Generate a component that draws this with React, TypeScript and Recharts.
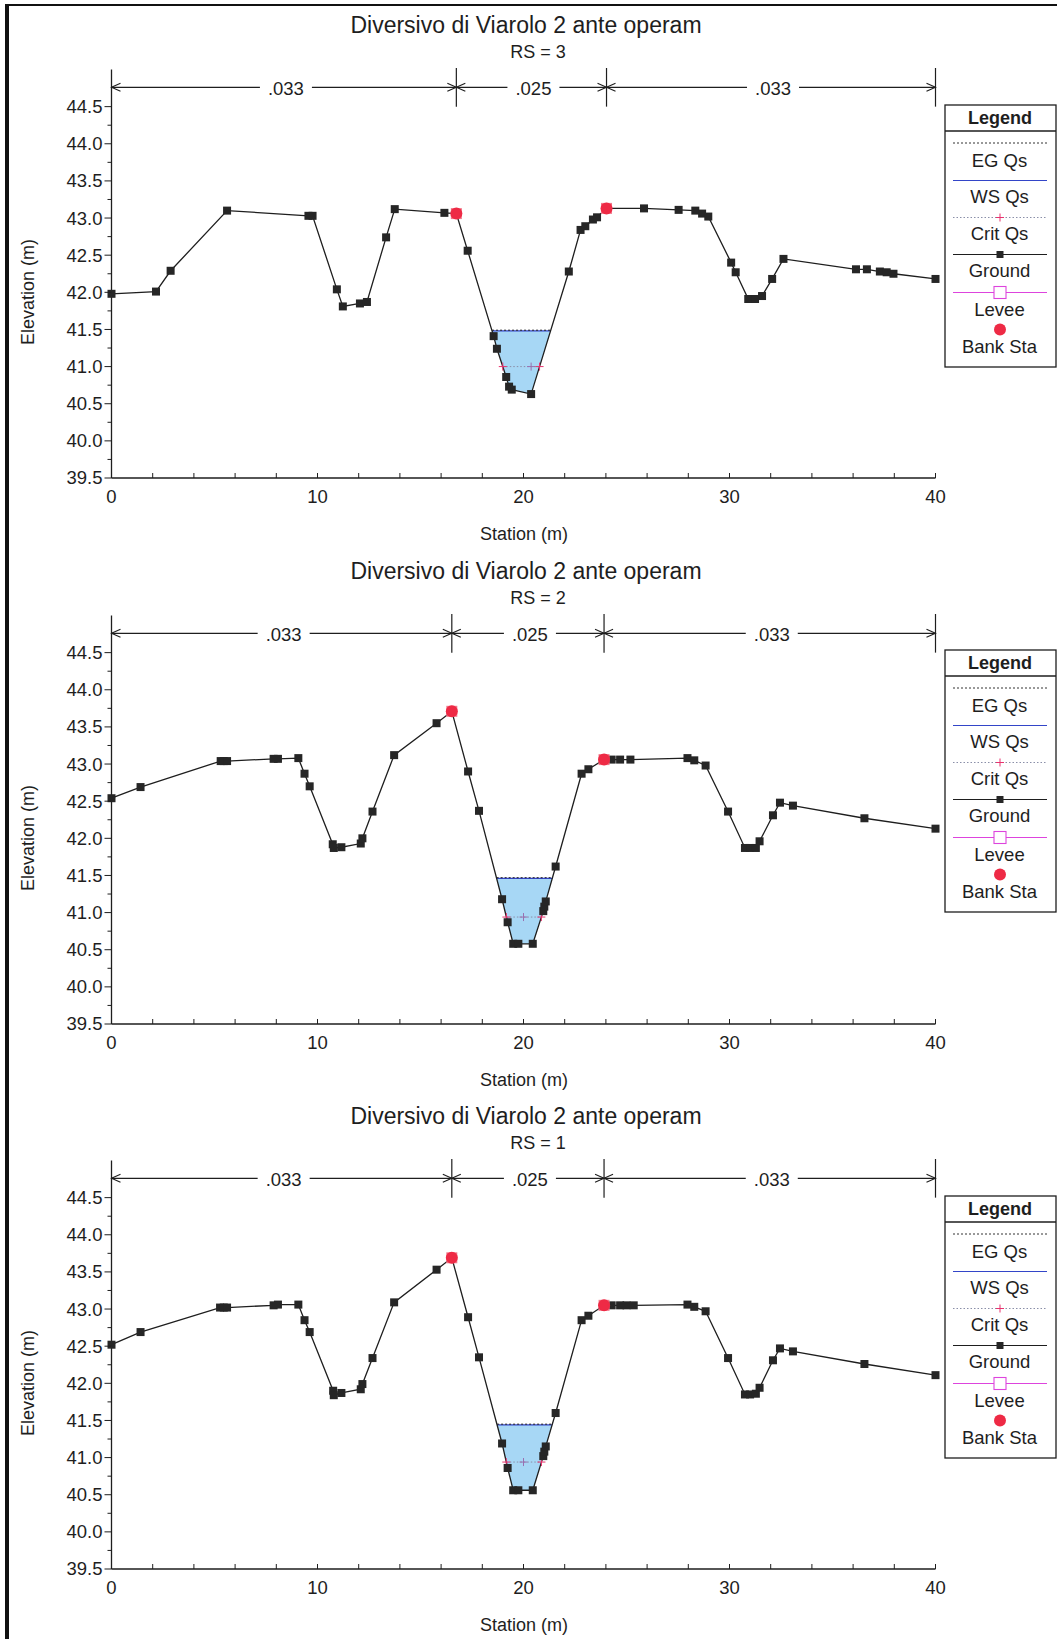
import { ComposedChart, Line, Area, Scatter, XAxis, YAxis, ReferenceLine } from "recharts"

const chartTitle = "Diversivo di Viarolo 2 ante operam"
const rsNames = ["3", "2", "1"]
const nValues = [".033", ".025", ".033"]

const xTicks = [0, 2, 4, 6, 8, 10, 12, 14, 16, 18, 20, 22, 24, 26, 28, 30, 32, 34, 36, 38, 40]
const xLabelTicks = [0, 10, 20, 30, 40]
const yTicks = [
  39.5, 39.75, 40, 40.25, 40.5, 40.75, 41, 41.25, 41.5, 41.75, 42, 42.25,
  42.5, 42.75, 43, 43.25, 43.5, 43.75, 44, 44.25, 44.5
]

// RS = 3
const rs3Station = [
  0, 2.16, 2.87, 5.61, 9.56, 9.76, 10.94, 11.23, 12.06, 12.4, 13.33, 13.75, 16.16, 16.74,
  17.29, 18.55, 18.71, 19.16, 19.3, 19.43, 20.37, 22.2, 22.77, 23.0, 23.37, 23.57, 24.03,
  25.85, 27.53, 28.34, 28.67, 28.97, 30.08, 30.3, 30.91, 31.24, 31.58, 32.07, 32.62, 36.14,
  36.67, 37.3, 37.63, 37.96, 40.0
]
const rs3Elev = [
  41.98, 42.01, 42.29, 43.1, 43.03, 43.03, 42.04, 41.81, 41.85, 41.87, 42.74, 43.12, 43.07, 43.06,
  42.56, 41.41, 41.24, 40.86, 40.73, 40.69, 40.63, 42.28, 42.84, 42.89, 42.98, 43.01, 43.13,
  43.13, 43.11, 43.1, 43.06, 43.02, 42.4, 42.27, 41.91, 41.91, 41.95, 42.18, 42.45, 42.31,
  42.31, 42.28, 42.27, 42.25, 42.18
]
const rs3Banks = [16.74, 24.03]

// RS = 2
const rs2Station = [
  0, 1.41, 5.3, 5.45, 5.61, 7.87, 8.08, 9.07, 9.37, 9.62, 10.74, 10.79, 11.16, 12.1, 12.18,
  12.67, 13.72, 15.78, 16.52, 17.31, 17.84, 18.96, 19.23, 19.5, 19.75, 20.45, 20.96, 21.01,
  21.08, 21.56, 22.82, 23.15, 23.91, 24.28, 24.69, 25.19, 27.96, 28.29, 28.84, 29.93, 30.75,
  31.0, 31.28, 31.46, 32.11, 32.45, 33.08, 36.55, 40.0
]
const rs2Elev = [
  42.54, 42.69, 43.04, 43.04, 43.04, 43.07, 43.07, 43.08, 42.87, 42.7, 41.92, 41.87, 41.88, 41.93, 42.0,
  42.36, 43.12, 43.55, 43.71, 42.9, 42.37, 41.18, 40.87, 40.58, 40.58, 40.58, 41.02, 41.08,
  41.15, 41.62, 42.87, 42.93, 43.06, 43.06, 43.06, 43.06, 43.08, 43.05, 42.98, 42.36, 41.87,
  41.87, 41.87, 41.96, 42.31, 42.48, 42.44, 42.27, 42.13
]
const rs2Banks = [16.52, 23.91]

// RS = 1
const rs1Station = [
  0, 1.41, 5.27, 5.45, 5.61, 7.87, 8.08, 9.07, 9.37, 9.62, 10.76, 10.79, 11.16, 12.1, 12.18,
  12.67, 13.72, 15.78, 16.52, 17.31, 17.84, 18.96, 19.23, 19.5, 19.75, 20.45, 20.96, 21.01,
  21.08, 21.56, 22.82, 23.15, 23.91, 24.28, 24.69, 25.0, 25.35, 27.96, 28.29, 28.84, 29.93,
  30.75, 31.0, 31.28, 31.46, 32.11, 32.45, 33.08, 36.55, 40.0
]
const rs1Elev = [
  42.52, 42.69, 43.02, 43.02, 43.02, 43.05, 43.06, 43.06, 42.85, 42.69, 41.9, 41.84, 41.87, 41.92, 41.99,
  42.34, 43.09, 43.53, 43.69, 42.89, 42.35, 41.19, 40.86, 40.56, 40.56, 40.56, 41.02, 41.08,
  41.15, 41.6, 42.85, 42.91, 43.05, 43.05, 43.05, 43.05, 43.05, 43.06, 43.03, 42.97, 42.34,
  41.85, 41.85, 41.86, 41.94, 42.31, 42.47, 42.43, 42.26, 42.11
]
const rs1Banks = [16.52, 23.91]

// water levels, in RS order 3, 2, 1
const wsLevels = [41.48, 41.46, 41.44]
const egLevels = [41.49, 41.47, 41.45]
const critLevels = [41.0, 40.94, 40.94]
const critMid = [20.37, 20.0, 20.0]

const FONT = '"Liberation Sans", Arial, sans-serif'
const INK = "#1e1e1e"

// where the water level meets the ground either side of the thalweg
function edges(st: number[], el: number[], level: number) {
  let m = 0
  el.forEach((v, i) => { if (v < el[m]) m = i })
  let i = m
  while (i > 0 && el[i - 1] < level) i--
  const a = i - 1
  const left = st[a] + ((level - el[a]) / (el[i] - el[a])) * (st[i] - st[a])
  let j = m
  while (j < el.length - 1 && el[j + 1] < level) j++
  const b = j + 1
  const right = st[j] + ((level - el[j]) / (el[b] - el[j])) * (st[b] - st[j])
  return [left, right]
}

const XTick = (props: any) => {
  const { x, y, payload } = props
  const v = payload.value
  return (
    <g>
      <line x1={x} x2={x} y1={y} y2={y - 5} stroke={INK} strokeWidth={1} />
      {xLabelTicks.includes(v) && (
        <text x={x} y={y + 19} dy="0.35em" textAnchor="middle" fontSize={18.5} fontFamily={FONT} fill={INK}>
          {v}
        </text>
      )}
    </g>
  )
}

const YTick = (props: any) => {
  const { x, y, payload } = props
  const v = payload.value
  const major = Math.abs(v * 2 - Math.round(v * 2)) < 1e-6
  return (
    <g>
      <line x1={x} x2={x - (major ? 7 : 4)} y1={y} y2={y} stroke={INK} strokeWidth={1} />
      {major && (
        <text x={x - 9} y={y} dy="0.35em" textAnchor="end" fontSize={18.5} fontFamily={FONT} fill={INK}>
          {v.toFixed(1)}
        </text>
      )}
    </g>
  )
}

const GroundDot = (p: any) =>
  p.cx == null ? <g key={p.key} /> : (
    <rect key={p.key} x={p.cx - 4} y={p.cy - 4} width={8} height={8} fill="#262626" />
  )

const CritDot = (p: any) =>
  p.cx == null ? <g key={p.key} /> : (
    <g key={p.key} stroke={p.index === 1 ? "#9a6fb0" : "#e8336e"} strokeWidth={1}>
      <line x1={p.cx - 4} x2={p.cx + 4} y1={p.cy} y2={p.cy} />
      <line x1={p.cx} x2={p.cx} y1={p.cy - 4} y2={p.cy + 4} />
    </g>
  )

const BankDot = (p: any) => (
  <g>
    <rect x={p.cx - 5.5} y={p.cy - 5.5} width={11} height={11} fill="#f27a8c" />
    <circle cx={p.cx} cy={p.cy} r={6} fill="#ee2a45" />
  </g>
)

// manning's n band, drawn between the library's own endpoints
const nBar = (label: string) => (p: any) => {
  const { x1, x2, y1 } = p
  const mid = (x1 + x2) / 2
  return (
    <g stroke={INK} strokeWidth={1.1} fill="none">
      <line x1={x1} y1={y1} x2={mid - 24} y2={y1} />
      <line x1={mid + 28} y1={y1} x2={x2} y2={y1} />
      <polyline points={`${x1 + 9},${y1 - 4} ${x1},${y1} ${x1 + 9},${y1 + 4}`} />
      <polyline points={`${x2 - 9},${y1 - 4} ${x2},${y1} ${x2 - 9},${y1 + 4}`} />
      <text x={mid + 2} y={y1 + 1} dy="0.36em" textAnchor="middle" fontSize={18.5} fontFamily={FONT} fill={INK} stroke="none">
        {label}
      </text>
    </g>
  )
}

function Legend() {
  const txt = (y: number, s: string) => (
    <text x={55.5} y={y} dy="0.35em" textAnchor="middle" fontSize={18.5} fontFamily={FONT} fill={INK}>{s}</text>
  )
  return (
    <svg width={113} height={264} style={{ position: "absolute", left: 943.5, top: 103.5 }}>
      <rect x={1} y={1} width={111} height={262} fill="white" stroke={INK} strokeWidth={1.3} />
      <text x={56} y={13.5} dy="0.35em" textAnchor="middle" fontSize={18} fontWeight="bold" fontFamily={FONT} fill={INK}>Legend</text>
      <line x1={1} x2={112} y1={27} y2={27} stroke={INK} strokeWidth={1.3} />
      <line x1={9} x2={103} y1={39} y2={39} stroke="#333" strokeDasharray="2 2" />
      {txt(56.5, "EG Qs")}
      <line x1={9} x2={103} y1={76.5} y2={76.5} stroke="#3345c8" strokeWidth={1.2} />
      {txt(93, "WS Qs")}
      <line x1={9} x2={103} y1={113.5} y2={113.5} stroke="#8a8fa8" strokeDasharray="1.5 2" />
      <line x1={52} x2={60} y1={113.5} y2={113.5} stroke="#e8336e" />
      <line x1={56} x2={56} y1={109.5} y2={117.5} stroke="#e8336e" />
      {txt(129.5, "Crit Qs")}
      <line x1={9} x2={103} y1={150.5} y2={150.5} stroke={INK} strokeWidth={1.2} />
      <rect x={52.5} y={147} width={7} height={7} fill="#262626" />
      {txt(167, "Ground")}
      <line x1={9} x2={103} y1={188.5} y2={188.5} stroke="#dd44dd" strokeWidth={1.1} />
      <rect x={50} y={182.5} width={12} height={12} fill="white" stroke="#dd44dd" strokeWidth={1.1} />
      {txt(205.5, "Levee")}
      <circle cx={56} cy={225.5} r={6} fill="#ee2a45" />
      {txt(243, "Bank Sta")}
    </svg>
  )
}

function Section(props: { rs: string; station: number[]; elev: number[]; banks: number[]; ws: number; eg: number; crit: number; mid: number; top: number }) {
  const { rs, station, elev, banks, ws, eg, crit, mid, top } = props
  const ground = station.map((s, i) => ({ st: s, elev: elev[i] }))
  const [wl, wr] = edges(station, elev, ws)
  const [cl, cr] = edges(station, elev, crit)
  const wet = [
    { st: wl, band: [ws, ws] },
    ...ground.filter((p) => p.st > wl && p.st < wr).map((p) => ({ st: p.st, band: [p.elev, ws] })),
    { st: wr, band: [ws, ws] },
  ]
  const wsLine = [{ st: wl, elev: ws }, { st: wr, elev: ws }]
  const egLine = [{ st: wl, elev: eg }, { st: wr, elev: eg }]
  const critLine = [{ st: cl, elev: crit }, { st: mid, elev: crit }, { st: cr, elev: crit }]
  const bankPts = ground.filter((p) => banks.includes(p.st))
  const breaks = [0, ...banks, 40]

  return (
    <div style={{ position: "absolute", left: 0, top, width: 1057, height: 546 }}>
      <ComposedChart width={1057} height={546} margin={{ top: 69.5, right: 121.5, bottom: 67, left: 110.5 }}>
        <XAxis
          type="number"
          dataKey="st"
          domain={[0, 40]}
          ticks={xTicks}
          interval={0}
          height={1}
          tickSize={0}
          tickMargin={0}
          tickLine={false}
          tick={<XTick />}
          axisLine={{ stroke: INK, strokeWidth: 1.3 }}
        />
        <YAxis
          type="number"
          domain={[39.5, 45]}
          ticks={yTicks}
          interval={0}
          width={1}
          tickSize={0}
          tickMargin={0}
          tickLine={false}
          tick={<YTick />}
          axisLine={{ stroke: INK, strokeWidth: 1.3 }}
        />
        <Area data={wet} dataKey="band" type="linear" fill="#a7d7f5" fillOpacity={1} stroke="none" isAnimationActive={false} />
        <Line data={wsLine} dataKey="elev" stroke="#3345c8" strokeWidth={1.2} dot={false} isAnimationActive={false} />
        <Line data={egLine} dataKey="elev" stroke="#222" strokeWidth={1} strokeDasharray="2 2" dot={false} isAnimationActive={false} />
        <Line data={critLine} dataKey="elev" stroke="#8a8fa8" strokeWidth={1} strokeDasharray="1.5 2" dot={CritDot} isAnimationActive={false} />
        <Line data={ground} dataKey="elev" type="linear" stroke={INK} strokeWidth={1.3} dot={GroundDot} isAnimationActive={false} />
        <Scatter data={bankPts} dataKey="elev" shape={BankDot} isAnimationActive={false} />
        {nValues.map((n, k) => (
          <ReferenceLine
            key={`n${k}`}
            segment={[{ x: breaks[k], y: 44.76 }, { x: breaks[k + 1], y: 44.76 }]}
            ifOverflow="visible"
            shape={nBar(n)}
          />
        ))}
        {breaks.slice(1).map((b, k) => (
          <ReferenceLine
            key={`s${k}`}
            segment={[{ x: b, y: 44.5 }, { x: b, y: 45.02 }]}
            ifOverflow="visible"
            stroke={INK}
            strokeWidth={1.2}
          />
        ))}
      </ComposedChart>
      <div style={{ position: "absolute", left: 526, top: 25, transform: "translate(-50%, -50%)", fontFamily: FONT, fontSize: 23, lineHeight: 1, whiteSpace: "nowrap", color: INK }}>
        {chartTitle}
      </div>
      <div style={{ position: "absolute", left: 538, top: 52, transform: "translate(-50%, -50%)", fontFamily: FONT, fontSize: 18, lineHeight: 1, whiteSpace: "nowrap", color: INK }}>
        RS = {rs}
      </div>
      <div style={{ position: "absolute", left: 524, top: 534, transform: "translate(-50%, -50%)", fontFamily: FONT, fontSize: 18, lineHeight: 1, whiteSpace: "nowrap", color: INK }}>
        Station (m)
      </div>
      <div style={{ position: "absolute", left: 28, top: 292, transform: "translate(-50%, -50%) rotate(-90deg)", fontFamily: FONT, fontSize: 18, lineHeight: 1, whiteSpace: "nowrap", color: INK }}>
        Elevation (m)
      </div>
      <Legend />
    </div>
  )
}

export default function App() {
  const stations = [rs3Station, rs2Station, rs1Station]
  const elevs = [rs3Elev, rs2Elev, rs1Elev]
  const banks = [rs3Banks, rs2Banks, rs1Banks]
  const tops = [0, 545.5, 1091.3]
  return (
    <div style={{ position: "absolute", left: 0, top: 0, width: 1057, height: 1639, background: "white", overflow: "hidden" }}>
      {rsNames.map((rs, i) => (
        <Section
          key={rs}
          rs={rs}
          station={stations[i]}
          elev={elevs[i]}
          banks={banks[i]}
          ws={wsLevels[i]}
          eg={egLevels[i]}
          crit={critLevels[i]}
          mid={critMid[i]}
          top={tops[i]}
        />
      ))}
      <div style={{ position: "absolute", left: 5, top: 4, width: 1060, height: 1650, borderLeft: "4px solid #111", borderTop: "2px solid #111" }} />
    </div>
  )
}
